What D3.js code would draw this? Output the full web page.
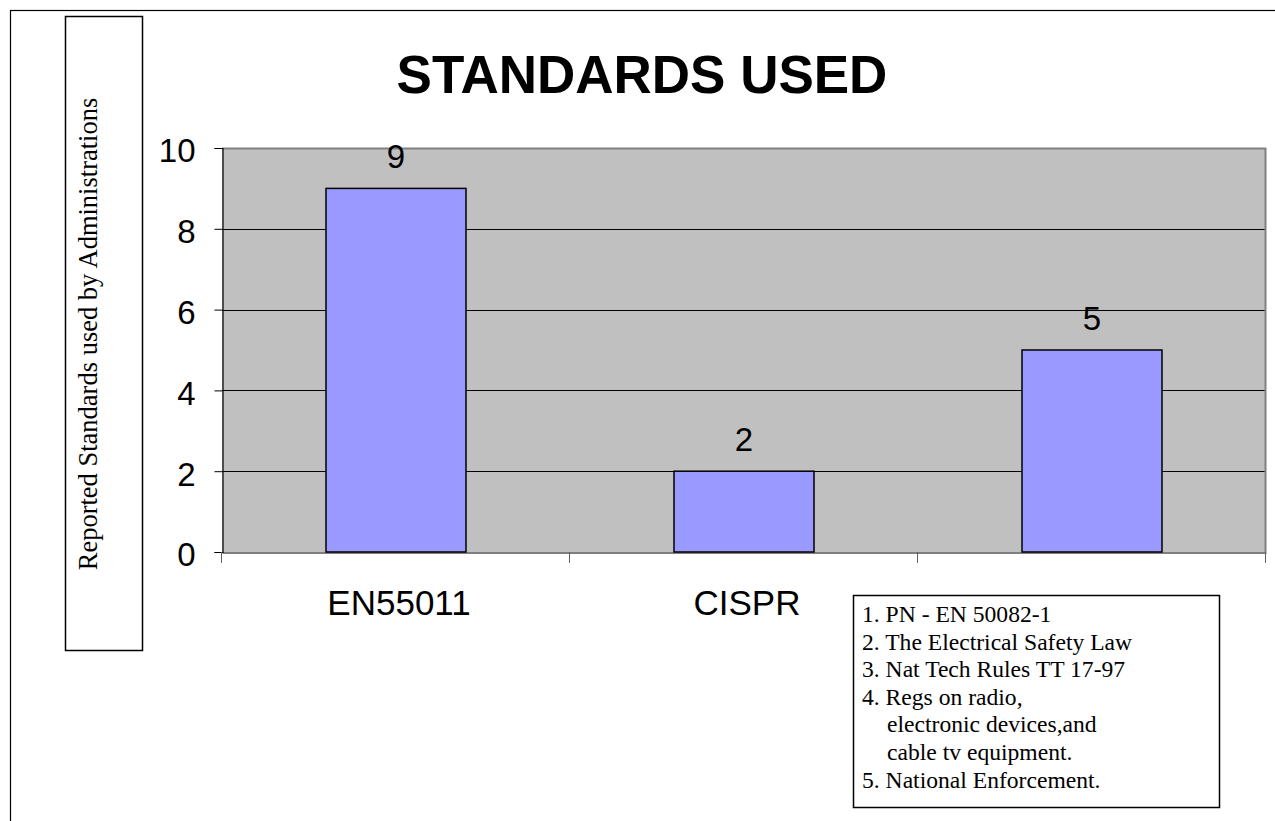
<!DOCTYPE html>
<html>
<head>
<meta charset="utf-8">
<script src="https://cdn.jsdelivr.net/npm/d3@7"></script>
<style>
  html, body { margin: 0; padding: 0; background: #fff; }
  svg { display: block; }
</style>
</head>
<body>
<svg id="chart" width="1275" height="821"></svg>
<script>
// ---- Data ----
const categories = ["EN55011", "CISPR", "Other"];
const categoryLabels = ["EN55011", "CISPR", ""];
const values = [9, 2, 5];
const yTicks = [0, 2, 4, 6, 8, 10];
const titleText = "STANDARDS USED";
const yAxisTitle = "Reported Standards used by Administrations";
const legendLines = [
  "1. PN - EN 50082-1",
  "2. The Electrical Safety Law",
  "3. Nat Tech Rules TT 17-97",
  "4. Regs on radio,",
  "electronic devices,and",
  "cable tv equipment.",
  "5. National Enforcement."
];
const legendIndent = [false, false, false, false, true, true, false];

// ---- Layout ----
const svg = d3.select("#chart");
const plot = { left: 222, right: 1266, top: 148, bottom: 552 };
const sans = "'Liberation Sans', Arial, sans-serif";
const serif = "'Liberation Serif', 'Times New Roman', serif";

const x = d3.scaleBand().domain(categories).range([plot.left, plot.right]).padding(0);
const y = d3.scaleLinear().domain([0, 10]).range([plot.bottom, plot.top]);
const barW = x.bandwidth() * (140 / 348);

// outer frame
svg.append("rect").attr("x", 10.5).attr("y", 10.5).attr("width", 1400).attr("height", 1000)
  .attr("fill", "none").attr("stroke", "#000").attr("stroke-width", 1.2);

// plot background
svg.append("rect").attr("x", plot.left).attr("y", plot.top)
  .attr("width", plot.right - plot.left).attr("height", plot.bottom - plot.top)
  .attr("fill", "#C0C0C0");

// gridlines
svg.append("g").selectAll("line").data(yTicks.filter(d => d > 0 && d < 10)).join("line")
  .attr("x1", plot.left).attr("x2", plot.right)
  .attr("y1", d => Math.round(y(d)) + 0.5).attr("y2", d => Math.round(y(d)) + 0.5)
  .attr("stroke", "#000").attr("stroke-width", 1);

// top and right border of plot area
svg.append("line").attr("x1", plot.left).attr("x2", plot.right)
  .attr("y1", plot.top + 0.5).attr("y2", plot.top + 0.5)
  .attr("stroke", "#808080").attr("stroke-width", 2);
svg.append("line").attr("x1", plot.right - 0.5).attr("x2", plot.right - 0.5)
  .attr("y1", plot.top).attr("y2", plot.bottom)
  .attr("stroke", "#808080").attr("stroke-width", 2);

// bars
svg.append("g").selectAll("rect").data(values).join("rect")
  .attr("x", (d, i) => x(categories[i]) + (x.bandwidth() - barW) / 2)
  .attr("y", d => y(d))
  .attr("width", barW)
  .attr("height", d => y(0) - y(d))
  .attr("fill", "#9999FF")
  .attr("stroke", "#000")
  .attr("stroke-width", 1.5);

// value labels
svg.append("g").selectAll("text").data(values).join("text")
  .attr("x", (d, i) => x(categories[i]) + x.bandwidth() / 2)
  .attr("y", d => y(d) - 20)
  .attr("text-anchor", "middle")
  .attr("font-family", sans).attr("font-size", 33)
  .attr("fill", "#000")
  .text(d => d);

// y axis
const yAxis = d3.axisLeft(y).tickValues(yTicks).tickSize(8).tickPadding(19).tickFormat(d3.format("d"));
const gy = svg.append("g").attr("transform", `translate(${plot.left + 0.5},0)`).call(yAxis);
gy.select(".domain").attr("stroke", "#000").attr("stroke-width", 1.2);
gy.selectAll(".tick line").attr("stroke", "#000");
gy.selectAll(".tick text").attr("font-family", sans).attr("font-size", 33)
  .attr("fill", "#000").attr("dy", "0.42em");

// x axis
const xAxis = d3.axisBottom(x).tickSize(0).tickPadding(38)
  .tickFormat((d, i) => categoryLabels[i]);
const gx = svg.append("g").attr("transform", `translate(0,${plot.bottom + 0.5})`).call(xAxis);
gx.select(".domain").attr("stroke", "#000").attr("stroke-width", 1.2);
gx.selectAll(".tick text").attr("font-family", sans).attr("font-size", 35).attr("fill", "#000")
  .attr("dx", 3);

// category boundary ticks
const boundaries = categories.map(c => x(c)).concat([plot.right]);
svg.append("g").selectAll("line").data(boundaries).join("line")
  .attr("x1", d => Math.round(d) - 0.5).attr("x2", d => Math.round(d) - 0.5)
  .attr("y1", plot.bottom).attr("y2", plot.bottom + 11)
  .attr("stroke", "#606060").attr("stroke-width", 1);

// title
svg.append("text").attr("x", 642).attr("y", 93)
  .attr("text-anchor", "middle")
  .attr("font-family", sans).attr("font-weight", "bold").attr("font-size", 53)
  .attr("fill", "#000").text(titleText);

// y axis title in a box
svg.append("rect").attr("x", 65.5).attr("y", 16.5).attr("width", 77).attr("height", 634)
  .attr("fill", "#fff").attr("stroke", "#000").attr("stroke-width", 1.5);
svg.append("text")
  .attr("transform", "translate(97,334) rotate(-90)")
  .attr("text-anchor", "middle")
  .attr("font-family", serif).attr("font-size", 26.5)
  .attr("fill", "#000").text(yAxisTitle);

// legend box
const lg = svg.append("g");
lg.append("rect").attr("x", 853.5).attr("y", 595.5).attr("width", 366).attr("height", 212)
  .attr("fill", "#fff").attr("stroke", "#000").attr("stroke-width", 1.5);
lg.selectAll("text").data(legendLines).join("text")
  .attr("x", (d, i) => legendIndent[i] ? 887 : 862)
  .attr("y", (d, i) => 622 + i * 27.6)
  .attr("font-family", serif).attr("font-size", 23.6)
  .attr("fill", "#000")
  .text(d => d);
</script>
</body>
</html>
